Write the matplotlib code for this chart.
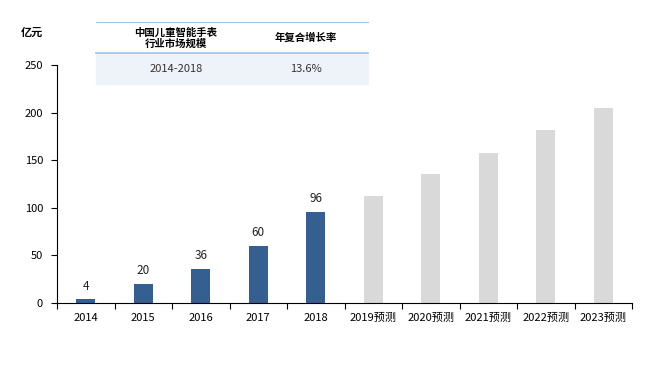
import matplotlib
matplotlib.use("Agg")
import matplotlib.pyplot as plt
import matplotlib.patches as mpatches
import matplotlib.lines as mlines

plt.rcParams['font.family'] = ['Noto Sans CJK SC', 'DejaVu Sans']

# --- data ---
years = ["2014", "2015", "2016", "2017", "2018",
         "2019预测", "2020预测", "2021预测", "2022预测", "2023预测"]
actual = [4, 20, 36, 60, 96]
forecast = [112, 135, 158, 182, 205]
table_header = ["中国儿童智能手表\n行业市场规模", "年复合增长率"]
table_row = ["2014-2018", "13.6%"]

W, H = 662, 365
fig = plt.figure(figsize=(W / 100, H / 100), dpi=100)
ax = fig.add_axes([57 / W, 1 - 303 / H, (632 - 57) / W, (303 - 65) / H])

x_act = list(range(len(actual)))
x_fc = list(range(len(actual), len(years)))
bw = 0.33
ax.bar(x_act, actual, width=bw, color='#355f91')
ax.bar(x_fc, forecast, width=bw, color='#d9d9d9')

for x, v in zip(x_act, actual):
    ax.text(x, v + 7, str(v), ha='center', va='bottom', fontsize=8.5, color='#222222')

ax.set_xlim(-0.5, len(years) - 0.5)
ax.set_ylim(0, 250)
ax.set_yticks([0, 50, 100, 150, 200, 250])
ax.set_xticks(range(len(years)))
ax.set_xticklabels(years)
ax.set_xticks([i - 0.5 for i in range(len(years) + 1)], minor=True)
ax.tick_params(axis='x', which='major', length=0, pad=7, labelsize=8)
ax.tick_params(axis='x', which='minor', length=4, width=0.8, direction='out')
ax.tick_params(axis='y', length=4, width=0.8, labelsize=8, pad=6)
for s in ['top', 'right']:
    ax.spines[s].set_visible(False)
ax.spines['left'].set_linewidth(0.8)
ax.spines['bottom'].set_linewidth(0.8)

fig.text(32 / W, 1 - 32 / H, "亿元", ha='center', va='center', fontsize=8, fontweight='bold')

# --- summary table ---
tx0, tx1 = 96 / W, 368 / W
fig.patches.append(mpatches.Rectangle((tx0, 1 - 84 / H), tx1 - tx0, 31 / H,
                                      transform=fig.transFigure, color='#eef2f9', zorder=0))
fig.lines.append(mlines.Line2D([tx0, tx1], [1 - 22 / H] * 2, transform=fig.transFigure,
                               color='#9dc3e6', lw=0.8))
fig.lines.append(mlines.Line2D([tx0, tx1], [1 - 53 / H] * 2, transform=fig.transFigure,
                               color='#9dc3e6', lw=1.2))
col_x = [176 / W, 306 / W]
for cx, h, r in zip(col_x, table_header, table_row):
    fig.text(cx, 1 - 38 / H, h, ha='center', va='center', fontsize=7.5,
             fontweight='bold', linespacing=1.05)
    fig.text(cx, 1 - 69 / H, r, ha='center', va='center', fontsize=8, color='#333333')

fig.savefig("out.png", dpi=100)
